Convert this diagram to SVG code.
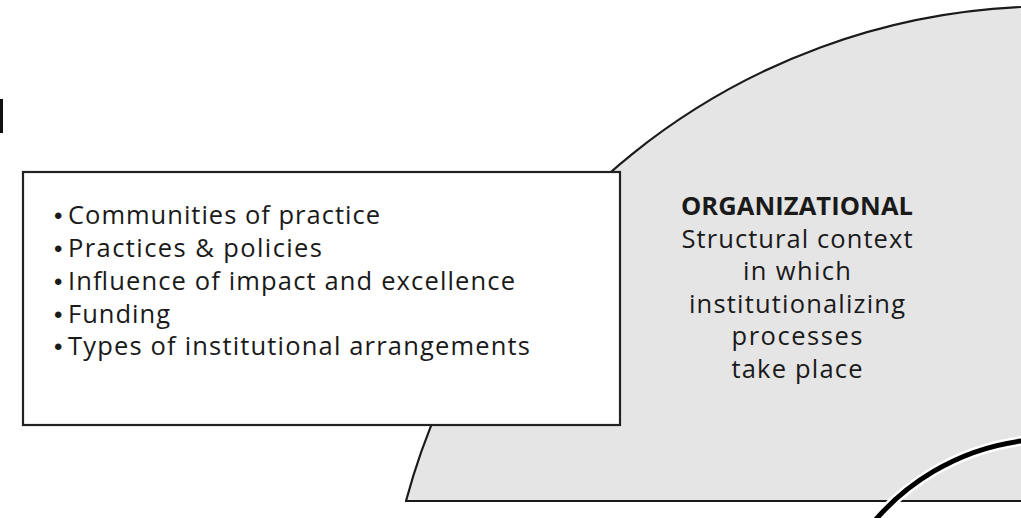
<svg xmlns="http://www.w3.org/2000/svg" width="1021" height="518" viewBox="0 0 1021 518">
<style>
.t{font-family:"Open Sans","Liberation Sans",sans-serif;font-size:25.5px;fill:#1a1a1a}
.b{font-weight:bold}
.d{font-family:"Liberation Sans",sans-serif;font-size:24px;fill:#1a1a1a}
.ln{fill:none;stroke:#1a1a1a;stroke-width:2.2}
</style>
<rect width="1021" height="518" fill="#ffffff"/>
<rect x="0" y="99" width="3" height="34" fill="#111"/>
<g id="organizational">
<path d="M406,501 A668,668 0 0,1 1021,7 L1021,501 Z" fill="#e5e5e5"/>
<path class="ln" d="M406,501 A668,668 0 0,1 1021,7"/>
<line class="ln" x1="405" y1="501" x2="1021" y2="501"/>
<g text-anchor="middle">
<text class="t b" x="797" y="215" textLength="232">ORGANIZATIONAL</text>
<text class="t" x="797" y="248" textLength="231">Structural context</text>
<text class="t" x="797" y="280" textLength="108">in which</text>
<text class="t" x="797" y="313" textLength="216">institutionalizing</text>
<text class="t" x="797" y="345" textLength="131">processes</text>
<text class="t" x="797" y="378" textLength="131">take place</text>
</g>
</g>
<g id="factors">
<rect x="23" y="172" width="597" height="253" fill="#ffffff" stroke="#222" stroke-width="2.2"/>
<text class="d" x="54" y="224">•</text><text class="t" x="68" y="224" textLength="312">Communities of practice</text>
<text class="d" x="54" y="257">•</text><text class="t" x="68" y="257" textLength="254">Practices &amp; policies</text>
<text class="d" x="54" y="290">•</text><text class="t" x="68" y="290" textLength="447">Influence of impact and excellence</text>
<text class="d" x="54" y="323">•</text><text class="t" x="68" y="323" textLength="102">Funding</text>
<text class="d" x="54" y="355">•</text><text class="t" x="68" y="355" textLength="462">Types of institutional arrangements</text>
</g>
<g id="connectors">
<path d="M860,540 A234,234 0 0,1 1030,440" fill="none" stroke="#ffffff" stroke-width="10"/>
<path d="M860,540 A234,234 0 0,1 1030,440" fill="none" stroke="#000" stroke-width="5"/>
</g>
</svg>
